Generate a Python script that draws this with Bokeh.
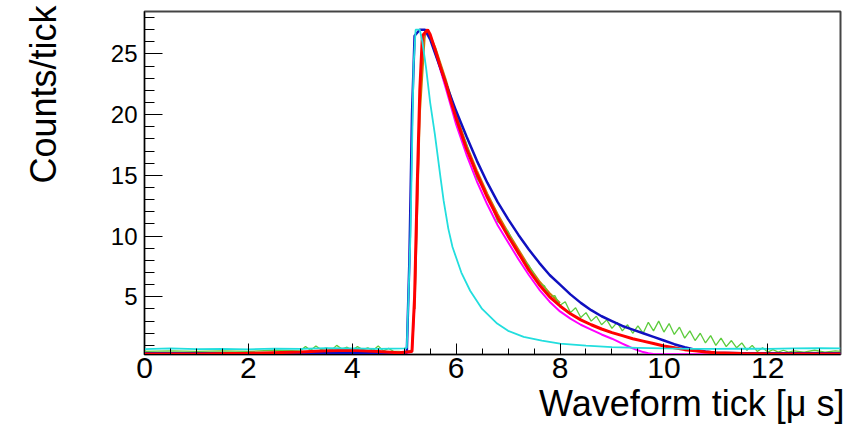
from bokeh.plotting import figure
from bokeh.models import Range1d, FixedTicker, Title
from bokeh.embed import file_html
from bokeh.resources import INLINE

# ---------------- data ----------------
X_TICKS = [0, 2, 4, 6, 8, 10, 12]
Y_TICKS = [5, 10, 15, 20, 25]

red_x = [0, 1, 2, 3, 3.5, 4, 4.5, 4.9, 5.15, 5.2, 5.25, 5.3, 5.35, 5.45, 5.5,
         5.6, 5.7, 5.8, 5.9, 6.0, 6.2, 6.4, 6.6, 6.8, 7.0, 7.2, 7.4, 7.6, 7.8, 8.0,
         8.2, 8.4, 8.6, 8.8, 9.0, 9.2, 9.4, 9.6, 9.8, 10.0, 10.2, 10.4, 10.6, 10.8,
         11.0, 11.5, 12.0, 13.4]
red_y = [0.3, 0.3, 0.35, 0.45, 0.55, 0.6, 0.5, 0.4, 0.5, 5, 14, 22, 26.5, 27, 26.6,
         25.3, 23.9, 22.6, 21.1, 19.7, 17.2, 15.1, 13.2, 11.5, 10.0, 8.6, 7.2, 6.0, 5.0, 4.25,
         3.6, 3.1, 2.7, 2.35, 2.05, 1.8, 1.55, 1.35, 1.15, 0.95, 0.8, 0.65, 0.55, 0.45,
         0.4, 0.33, 0.3, 0.3]

magenta_x = [0, 5.0, 5.15, 5.2, 5.25, 5.3, 5.35, 5.45, 5.6, 5.8, 6.0, 6.2, 6.4,
             6.6, 6.8, 7.0, 7.2, 7.4, 7.6, 7.8, 8.0, 8.2, 8.4, 8.6, 8.8, 9.0, 9.1, 9.2,
             9.3, 9.4, 9.5, 9.6, 9.7, 9.8, 10.0, 13.4]
magenta_y = [0.3, 0.3, 0.5, 4.5, 13, 21, 26, 27, 25.1, 22.2, 19.2, 16.7, 14.5,
             12.6, 10.9, 9.5, 8.1, 6.8, 5.6, 4.6, 3.8, 3.2, 2.7, 2.3, 1.9, 1.55, 1.35, 1.15,
             0.95, 0.75, 0.6, 0.45, 0.35, 0.3, 0.28, 0.28]

blue_x = [0, 5.0, 5.05, 5.1, 5.15, 5.2, 5.3, 5.4, 5.5, 5.6, 5.8, 6.0, 6.2, 6.4, 6.6,
          6.8, 7.0, 7.2, 7.4, 7.6, 7.8, 8.0, 8.2, 8.4, 8.6, 8.8, 9.0, 9.2, 9.4, 9.6,
          9.8, 10.0, 10.2, 10.4, 10.6, 10.8, 11.0, 11.5, 13.4]
blue_y = [0.35, 0.35, 0.4, 8, 20, 26.5, 27, 27, 26.2, 25, 22.6, 20.3, 18.2, 16.2, 14.4,
          12.8, 11.4, 10.1, 8.9, 7.8, 6.8, 6.0, 5.2, 4.5, 3.9, 3.4, 3.0, 2.6, 2.3, 2.0,
          1.7, 1.4, 1.1, 0.85, 0.65, 0.5, 0.4, 0.35, 0.35]

cyan_x = [0, 0.5, 1.0, 1.5, 2.0, 2.5, 3.0, 3.5, 4.0, 4.5, 5.0, 5.05, 5.12, 5.18, 5.22,
          5.3, 5.35, 5.42, 5.5, 5.59, 5.7, 5.76, 5.85, 5.93, 6.1, 6.27, 6.5, 6.79, 7.0,
          7.3, 7.65, 8.0, 8.5, 9.0, 9.5, 10.0, 10.5, 11.0, 11.5, 12.0, 12.5, 13.0, 13.4]
cyan_y = [0.7, 0.75, 0.7, 0.72, 0.68, 0.74, 0.72, 0.78, 0.75, 0.72, 0.75, 0.8, 10, 24, 27,
          27, 26, 23.9, 21, 18.4, 14.8, 12.9, 10.6, 9.1, 7.0, 5.5, 4.0, 2.8, 2.2,
          1.7, 1.4, 1.15, 0.98, 0.85, 0.8, 0.75, 0.72, 0.72, 0.74, 0.72, 0.75, 0.78, 0.75]

green_x = [0, 0.5, 1.0, 1.5, 2.0, 2.5, 3.0, 3.1, 3.2, 3.3, 3.4, 3.5, 3.6, 3.7, 3.8,
           3.9, 4.0, 4.1, 4.2, 4.3, 4.4, 4.5, 4.6, 4.7, 4.8, 4.9, 5.0, 5.15, 5.2, 5.25,
           5.3, 5.35, 5.45, 5.6, 5.8, 6.0, 6.2, 6.4, 6.6, 6.8, 7.0, 7.2, 7.4, 7.6,
           7.7, 7.8, 7.9, 8.0, 8.1, 8.2, 8.3, 8.4, 8.5, 8.6, 8.7, 8.8, 8.9, 9.0, 9.1,
           9.2, 9.3, 9.4, 9.5, 9.6, 9.7, 9.8, 9.9, 10.0, 10.1, 10.2, 10.3, 10.4, 10.5,
           10.6, 10.7, 10.8, 10.9, 11.0, 11.1, 11.2, 11.3, 11.4, 11.5, 11.6, 11.7, 11.8,
           11.9, 12.0, 12.1, 12.2, 12.3, 12.4, 12.5, 12.7, 12.9, 13.1, 13.3, 13.4]
green_y = [0.5, 0.55, 0.5, 0.55, 0.5, 0.6, 0.55, 0.9, 0.6, 0.95, 0.65, 0.8, 0.6, 1.0, 0.7,
           0.85, 0.6, 0.9, 0.65, 0.8, 0.6, 0.95, 0.55, 0.75, 0.5, 0.5, 0.45, 0.6, 5.5, 14.5,
           22, 26.5, 27, 25.4, 22.8, 19.6, 17.6, 14.8, 13.4, 11.2, 10.4, 8.5, 7.6, 6.1,
           5.9, 5.0, 5.1, 4.3, 4.6, 3.7, 4.1, 3.3, 3.7, 3.0, 3.4, 2.7, 3.1, 2.4, 2.9,
           2.2, 2.7, 2.0, 2.6, 2.0, 2.9, 2.2, 3.0, 2.1, 2.8, 1.9, 2.5, 1.6, 2.2,
           1.4, 2.0, 1.2, 1.8, 1.0, 1.6, 0.9, 1.4, 0.8, 1.2, 0.6, 1.0, 0.5,
           0.8, 0.45, 0.65, 0.45, 0.6, 0.45, 0.55, 0.45, 0.6, 0.45, 0.55, 0.5]

orange_x = [5.2, 5.3, 5.4, 5.45, 5.6, 5.8, 6.0, 6.2, 6.4, 6.6, 6.8, 7.0, 7.2, 7.4,
            7.6, 7.8, 8.0]
orange_y = [4, 20, 26.8, 27, 25.5, 22.9, 20.0, 17.5, 15.4, 13.5, 11.8, 10.3, 8.9, 7.5,
            6.3, 5.3, 4.5]

X_TITLE = "Waveform tick [\u03bc s]"
Y_TITLE = "Counts/tick"

# ---------------- figure ----------------
FONT = "Liberation Sans"

p = figure(width=846, height=427, output_backend="svg", toolbar_location=None,
           x_range=Range1d(0, 13.4), y_range=Range1d(0.25, 28.5),
           min_border_left=144, min_border_right=6, min_border_top=11,
           min_border_bottom=73)
p.background_fill_color = "white"
p.border_fill_color = "white"
p.outline_line_color = "#444444"
p.outline_line_width = 2
p.xgrid.visible = False
p.ygrid.visible = False

p.line(magenta_x, magenta_y, line_color="#ff00ff", line_width=2)
p.line(orange_x, orange_y, line_color="#cc7a00", line_width=2)
p.line(green_x, green_y, line_color="#5ccc3c", line_width=1.3)
p.line(blue_x, blue_y, line_color="#1010c0", line_width=2.5)
p.line(red_x, red_y, line_color="#ff0000", line_width=3)
p.line(cyan_x, cyan_y, line_color="#22dede", line_width=1.8)

xa = p.xaxis[0]
xa.ticker = FixedTicker(ticks=X_TICKS, minor_ticks=[i * 0.5 for i in range(27)])
xa.major_tick_in = 11
xa.major_tick_out = 0
xa.minor_tick_in = 6
xa.minor_tick_out = 0
xa.major_label_text_font = FONT
xa.major_label_text_font_size = "30px"
xa.major_label_text_color = "black"
xa.major_label_standoff = 3
xa.axis_line_color = "black"

ya = p.yaxis[0]
ya.ticker = FixedTicker(ticks=Y_TICKS, minor_ticks=list(range(1, 29)))
ya.major_tick_in = 18
ya.major_tick_out = 0
ya.minor_tick_in = 10
ya.minor_tick_out = 0
ya.major_label_text_font = FONT
ya.major_label_text_font_size = "24px"
ya.major_label_text_color = "black"
ya.major_label_standoff = 7
ya.axis_line_color = "black"
# blank label only used as spacing so the y title sits at the far left
ya.axis_label = " "
ya.axis_label_text_font_size = "12px"
ya.axis_label_standoff = 27

p.add_layout(Title(text=X_TITLE, align="right", offset=-4, standoff=0,
                   text_font=FONT, text_font_size="36px",
                   text_font_style="normal", text_color="black"), "below")
p.add_layout(Title(text=Y_TITLE, align="right", offset=-6, standoff=0,
                   vertical_align="bottom",
                   text_font=FONT, text_font_size="36px",
                   text_font_style="normal", text_color="black"), "left")

open("out.html", "w").write(file_html(p, INLINE))
